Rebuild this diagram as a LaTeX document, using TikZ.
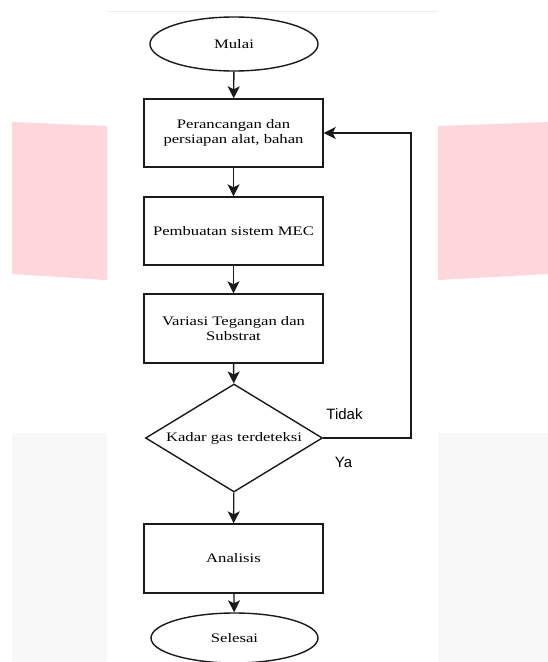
\documentclass[tikz,border=0pt]{standalone}
\usepackage{fontspec}
\setmainfont{Liberation Serif}
\newfontfamily\boxfont[FakeStretch=1.28]{Liberation Serif}
\newfontfamily\labfont{Liberation Sans}
\usetikzlibrary{shapes.geometric,arrows.meta}
\definecolor{wmpink}{HTML}{FDD7DC}
\definecolor{wmgray}{HTML}{F8F8F8}
\definecolor{ln}{HTML}{1A1A1A}
\tikzset{
  x=1pt, y=-1pt,
  base/.style={draw=ln, line width=1.4pt, fill=white, inner sep=0pt,
    font=\boxfont\fontsize{13}{15}\selectfont, align=center},
  term/.style={base, ellipse},
  proc/.style={base, rectangle, minimum width=179pt},
  decide/.style={base, diamond, aspect=1.64, inner sep=0pt, minimum width=177pt, minimum height=108pt},
  arr/.style={draw=ln, line width=1.4pt, -{Stealth[length=12pt,width=12pt,inset=3pt]}},
  lab/.style={font=\labfont\fontsize{15}{17}\selectfont, inner sep=0pt}
}
\begin{document}
\begin{tikzpicture}
\useasboundingbox (0,0) rectangle (548,662);
\fill[white] (0,0) rectangle (548,662);
% watermark background
\fill[wmpink] (12,122) -- (107,126) -- (107,280) -- (12,274) -- cycle;
\fill[wmpink] (438,126) -- (548,122) -- (548,274) -- (438,280) -- cycle;
\fill[wmgray] (12,433) rectangle (107,662);
\fill[wmgray] (438,433) rectangle (548,662);
\draw[color=black!7, line width=0.8pt] (107,11) -- (438,11);
% nodes
\node[term, minimum width=168pt, minimum height=54pt] (start) at (234,44) {Mulai};
\node[proc, minimum height=68pt] (b1) at (233.5,133) {Perancangan dan\\persiapan alat, bahan};
\node[proc, minimum height=68pt] (b2) at (233.5,231) {Pembuatan sistem MEC};
\node[proc, minimum height=69pt] (b3) at (233.5,328.5) {Variasi Tegangan dan\\Substrat};
\node[decide] (d) at (234,438) {Kadar gas terdeteksi};
\node[proc, minimum height=69pt] (b4) at (233.5,558.5) {Analisis};
\node[term, minimum width=167pt, minimum height=50pt] (end) at (234.5,638) {Selesai};
\node[lab] (tidak) at (344.5,414) {Tidak};
\node[lab] (ya) at (343.5,462) {Ya};
\coordinate (loop) at (411,438);
% connectors
\draw[arr] (start) -- (b1);
\draw[arr] (b1) -- (b2);
\draw[arr] (b2) -- (b3);
\draw[arr] (b3) -- (d);
\draw[arr] (d) -- (b4);
\draw[arr] (b4) -- (end);
\draw[arr] (d.east) -- (loop) |- (b1.east);
\end{tikzpicture}
\end{document}
